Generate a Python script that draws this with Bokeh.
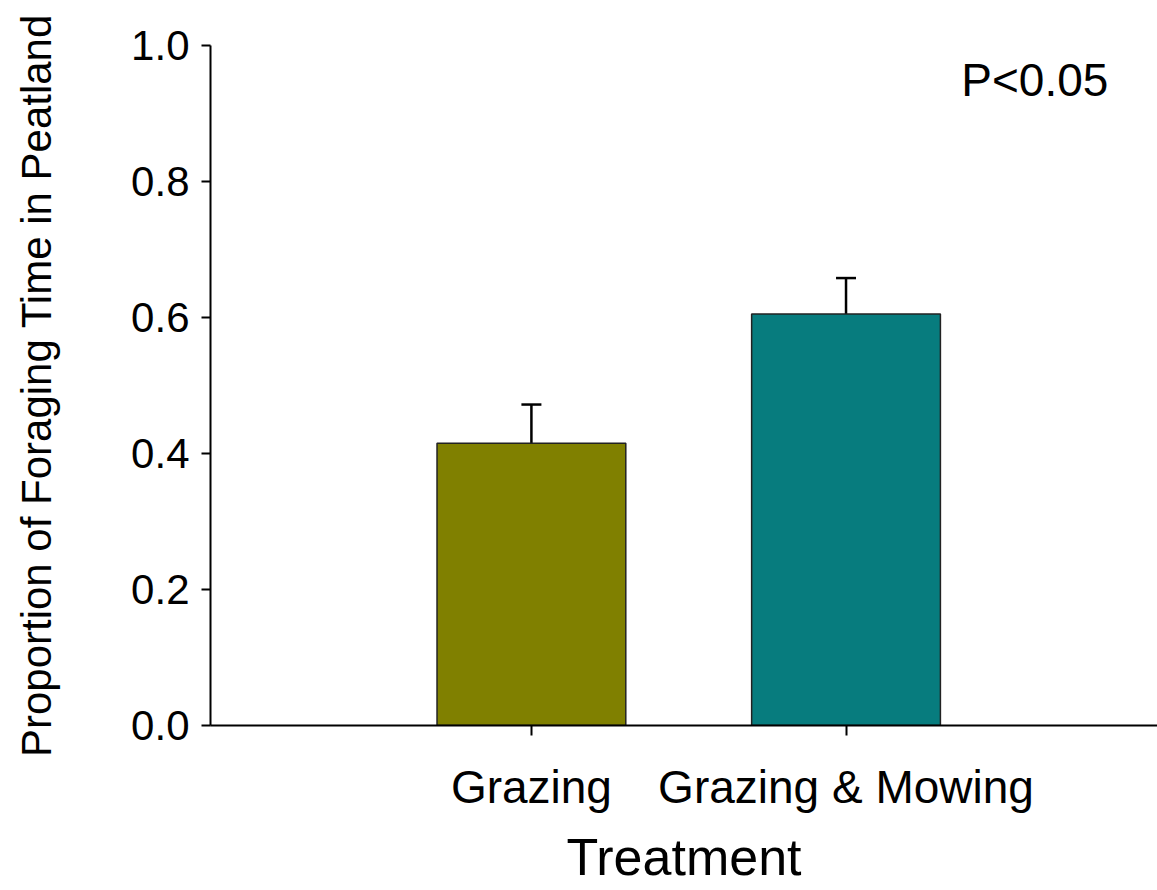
from bokeh.plotting import figure
from bokeh.models import ColumnDataSource, FixedTicker, Whisker, TeeHead, Label
from bokeh.embed import file_html
from bokeh.resources import INLINE

categories = ["Grazing", "Grazing & Mowing"]
positions = [1, 2]
means = [0.415, 0.605]
errors = [0.057, 0.053]
colors = ["#808000", "#077c7e"]
y_ticks = [0.0, 0.2, 0.4, 0.6, 0.8, 1.0]

FONT = "Liberation Sans"

src = ColumnDataSource(dict(
    x=positions, top=means, upper=[m + e for m, e in zip(means, errors)],
    color=colors,
))

p = figure(width=1157, height=890, output_backend="svg", toolbar_location=None,
           x_range=(-0.02, 2.99), y_range=(0, 1.0),
           min_border_left=210, min_border_right=0, min_border_top=45,
           min_border_bottom=165)
p.outline_line_color = None
p.xgrid.grid_line_color = None
p.ygrid.grid_line_color = None
p.background_fill_color = "white"
p.border_fill_color = "white"

p.vbar(x="x", top="top", bottom=0, width=0.6, source=src, fill_color="color",
       line_color="#222222", line_width=1.5)

wh = Whisker(source=src, base="x", upper="upper", lower="top",
             line_color="black", line_width=2.5,
             upper_head=TeeHead(size=20, line_color="black", line_width=2.5),
             lower_head=None)
p.add_layout(wh)

# y axis
ya = p.yaxis[0]
ya.ticker = FixedTicker(ticks=y_ticks)
ya.major_label_overrides = {t: f"{t:.1f}" for t in y_ticks}
ya.axis_line_width = 2
ya.major_tick_line_width = 2
ya.major_tick_out = 9
ya.major_tick_in = 0
ya.minor_tick_line_color = None
ya.major_label_text_font = FONT
ya.major_label_text_font_size = "42px"
ya.major_label_text_color = "black"
ya.major_label_standoff = 12
ya.axis_label = "Proportion of Foraging Time in Peatland"
ya.axis_label_text_font = FONT
ya.axis_label_text_font_size = "42px"
ya.axis_label_text_font_style = "normal"
ya.axis_label_text_color = "black"
ya.axis_label_standoff = 68

# x axis
xa = p.xaxis[0]
xa.ticker = FixedTicker(ticks=positions)
xa.major_label_overrides = {pos: c for pos, c in zip(positions, categories)}
xa.axis_line_width = 2
xa.major_tick_line_width = 2
xa.major_tick_out = 10
xa.major_tick_in = 0
xa.minor_tick_line_color = None
xa.major_label_text_font = FONT
xa.major_label_text_font_size = "46px"
xa.major_label_text_color = "black"
xa.major_label_standoff = 25
xa.axis_label = "Treatment"
xa.axis_label_text_font = FONT
xa.axis_label_text_font_size = "52px"
xa.axis_label_text_font_style = "normal"
xa.axis_label_text_color = "black"
xa.axis_label_standoff = 12

p.add_layout(Label(x=2.6, y=0.95, text="P<0.05", text_font=FONT,
                   text_font_size="46px", text_align="center",
                   text_baseline="middle", text_color="black"))

open("out.html", "w").write(file_html(p, INLINE))
